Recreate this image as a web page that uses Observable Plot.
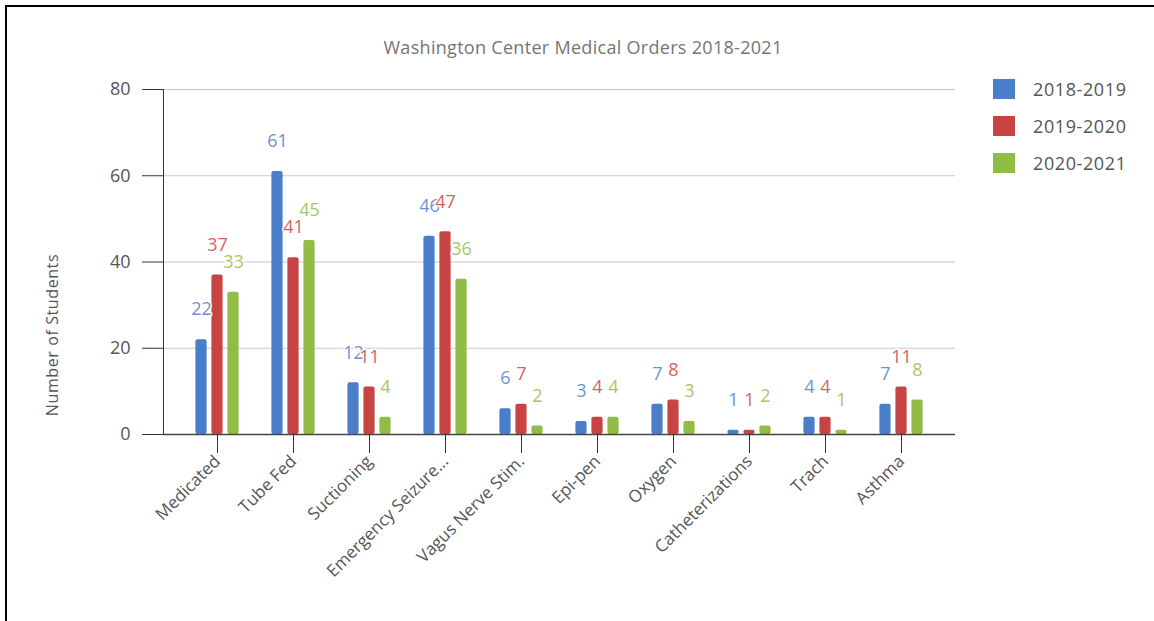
<!DOCTYPE html>
<html><head><meta charset="utf-8">
<script src="https://cdn.jsdelivr.net/npm/d3@7"></script>
<script src="https://cdn.jsdelivr.net/npm/@observablehq/plot@0.6"></script>
<style>
body{margin:0;background:#fff;font-family:"Open Sans",sans-serif}
#wrap{position:relative;width:1154px;height:621px;overflow:hidden;background:#fff}
#border{position:absolute;left:5px;top:5px;width:1200px;height:700px;border-left:2px solid #000;border-top:2px solid #000;pointer-events:none}
#title{position:absolute;left:0;width:1166px;top:35px;text-align:center;font-size:18px;letter-spacing:0.3px;color:#757575}
#ylab{position:absolute;left:52px;top:335px;transform:translate(-50%,-50%) rotate(-90deg);font-size:16px;letter-spacing:0.6px;color:#555;white-space:nowrap}
#legend{position:absolute;left:993px;top:70px}
.li{display:flex;align-items:center;height:37px}
.sw{width:22px;height:20px;margin-right:18px}
.lt{font-size:18px;letter-spacing:0.6px;color:#555}
#chart{position:absolute;left:0;top:0}
</style></head>
<body>
<div id="wrap">
<div id="chart"></div>
<div id="title"></div>
<div id="ylab"></div>
<div id="legend"></div>
<div id="border"></div>
</div>
<script>
const title = "Washington Center Medical Orders 2018-2021";
const yLabel = "Number of Students";
const categories = ["Medicated","Tube Fed","Suctioning","Emergency Seizure...","Vagus Nerve Stim.","Epi-pen","Oxygen","Catheterizations","Trach","Asthma"];
const seriesNames = ["2018-2019","2019-2020","2020-2021"];
const values2018 = [22,61,12,46,6,3,7,1,4,7];
const values2019 = [37,41,11,47,7,4,8,1,4,11];
const values2020 = [33,45,4,36,2,4,3,2,1,8];
const yTicks = [0,20,40,60,80];
const barColors = ["#4a7ec9","#c84442","#8fbd46"];
const labelColors = ["#6e93d2","#d46462","#a6c768"];
const offsets = [-16,0,16];

const seriesValues = [values2018, values2019, values2020];
const rows = [];
seriesValues.forEach((vals, s) => vals.forEach((v, i) => rows.push({category: categories[i], series: seriesNames[s], s, value: v})));

document.getElementById("title").textContent = title;
document.getElementById("ylab").textContent = yLabel;
const leg = document.getElementById("legend");
seriesNames.forEach((n, i) => {
  const d = document.createElement("div"); d.className = "li";
  d.innerHTML = `<div class="sw" style="background:${barColors[i]}"></div><div class="lt">${n}</div>`;
  leg.appendChild(d);
});

const barW = 12;
const step = 76.8;
const marks = [
  Plot.gridY(yTicks.slice(1), {stroke: "#c8c8c8", strokeOpacity: 1}),
  Plot.axisY({ticks: yTicks, tickSize: 21, tickPadding: 12, fontSize: 18, stroke: "#333", fill: "#555", label: null})
];
seriesNames.forEach((n, s) => {
  marks.push(Plot.barY(rows.filter(r => r.s === s), {x: "category", y: "value", fill: barColors[s], dx: offsets[s], insetLeft: (step - barW)/2, insetRight: (step - barW)/2, rx: 2}));
});
marks.push(Plot.frame({anchor: "left", stroke: "#333"}));
marks.push(Plot.ruleY([0], {stroke: "#444", strokeWidth: 1.5}));
marks.push(Plot.axisX({tickSize: 19, tickRotate: -45, tickPadding: 5, fontSize: 17, stroke: "#333", fill: "#555", label: null}));
seriesNames.forEach((n, s) => {
  marks.push(Plot.text(rows.filter(r => r.s === s), {x: "category", y: "value", text: d => String(d.value), dx: offsets[s], dy: -30, fill: labelColors[s], stroke: "white", strokeWidth: 3, fontSize: 18}));
});

const chart = Plot.plot({
  width: 1154, height: 621,
  marginLeft: 163, marginRight: 199, marginTop: 89, marginBottom: 187,
  style: {fontFamily: "'Open Sans', sans-serif", background: "transparent"},
  x: {domain: categories, paddingInner: 0, paddingOuter: 0.156, axis: null},
  y: {domain: [0, 80], axis: null},
  marks
});
document.getElementById("chart").appendChild(chart);
</script>
</body></html>
